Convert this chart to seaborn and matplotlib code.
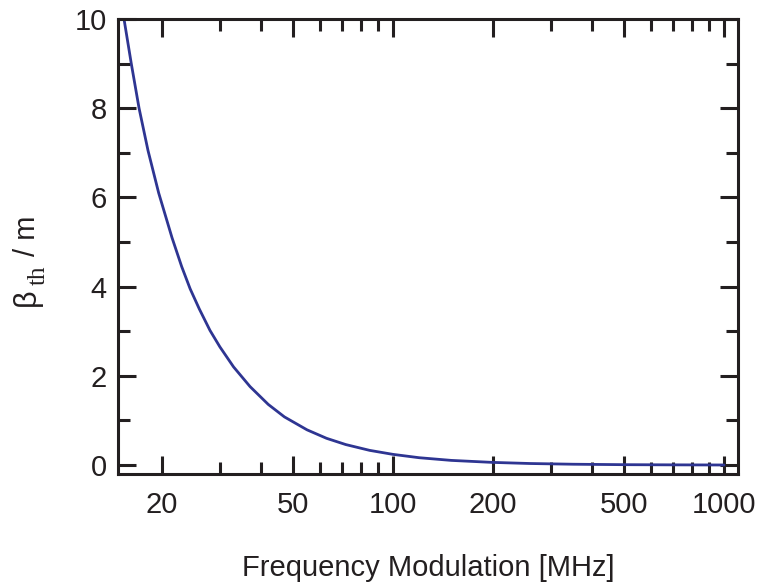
import matplotlib
matplotlib.use("Agg")
import matplotlib.pyplot as plt
import matplotlib.ticker as mticker
import seaborn as sns
import pandas as pd

# Data
freq_mhz = [15.4, 16.2, 17.1, 18.2, 19.6, 21.5, 23.0, 24.4, 26.0, 28.0, 30.0,
            33.0, 37.0, 42.0, 47.0, 55.0, 63.0, 72.0, 85.0, 100.0, 120.0,
            150.0, 200.0, 260.0, 350.0, 500.0, 700.0, 1000.0]
beta_th = [10.0, 9.0, 8.0, 7.05, 6.1, 5.1, 4.45, 3.95, 3.5, 3.02, 2.65,
           2.2, 1.76, 1.36, 1.08, 0.79, 0.6, 0.46, 0.33, 0.24, 0.165,
           0.105, 0.06, 0.035, 0.019, 0.009, 0.005, 0.002]
x_major = [20, 50, 100, 200, 500, 1000]
x_major_labels = ["20", "50", "100", "200", "500", "1000"]
x_minor = [30, 40, 60, 70, 80, 90, 300, 400, 600, 700, 800, 900]
y_major = [0, 2, 4, 6, 8, 10]
y_minor = [1, 3, 5, 7, 9]

df = pd.DataFrame({"freq": freq_mhz, "beta": beta_th})

sns.set_theme(style="ticks")
plt.rcParams["font.family"] = ["Liberation Sans", "DejaVu Sans"]

INK = "#231f20"
W, H = 757, 586
L, R, T, B = 118, 738, 19, 474

fig = plt.figure(figsize=(W / 100, H / 100), dpi=100)
ax = fig.add_axes([L / W, 1 - B / H, (R - L) / W, (B - T) / H])

sns.lineplot(data=df, x="freq", y="beta", ax=ax, color="#2e3592",
             linewidth=2.0, legend=False)

ax.set_xscale("log")
ax.set_xlim(14.77, 1102)
ax.set_ylim(-0.2, 10)

ax.xaxis.set_major_locator(mticker.FixedLocator(x_major))
ax.xaxis.set_major_formatter(mticker.FixedFormatter(x_major_labels))
ax.xaxis.set_minor_locator(mticker.FixedLocator(x_minor))
ax.xaxis.set_minor_formatter(mticker.NullFormatter())
ax.yaxis.set_major_locator(mticker.FixedLocator(y_major))
ax.yaxis.set_minor_locator(mticker.FixedLocator(y_minor))

for side in ["left", "right", "top", "bottom"]:
    ax.spines[side].set_visible(True)
    ax.spines[side].set_linewidth(2.2)
    ax.spines[side].set_color(INK)

ax.tick_params(which="major", direction="in", length=13, width=2.2,
               top=True, right=True, color=INK,
               labelsize=21, labelcolor=INK)
ax.tick_params(which="minor", direction="in", length=8.5, width=2.2,
               top=True, right=True, color=INK)
ax.tick_params(axis="x", which="major", pad=12)
ax.tick_params(axis="y", which="major", pad=8)

ax.set_xlabel("Frequency Modulation [MHz]", fontsize=21, color=INK)
ax.xaxis.set_label_coords(0.5, -0.175)
ax.set_ylabel("")


def fx(px):
    return (px - L) / (R - L)


def fy(py):
    return (B - py) / (B - T)


# y label: beta with serif subscript "th", then " / m"
lab_kw = dict(transform=ax.transAxes, rotation=90, rotation_mode="anchor",
              ha="left", va="baseline", color=INK, clip_on=False)
ax.text(fx(35), fy(306), "β", fontsize=22, **lab_kw)
ax.text(fx(45), fy(285), "th", fontsize=18,
        family=["Liberation Serif", "DejaVu Serif"], **lab_kw)
ax.text(fx(35), fy(256), "/ m", fontsize=21, **lab_kw)

fig.savefig("out.png", dpi=100, facecolor="white")
